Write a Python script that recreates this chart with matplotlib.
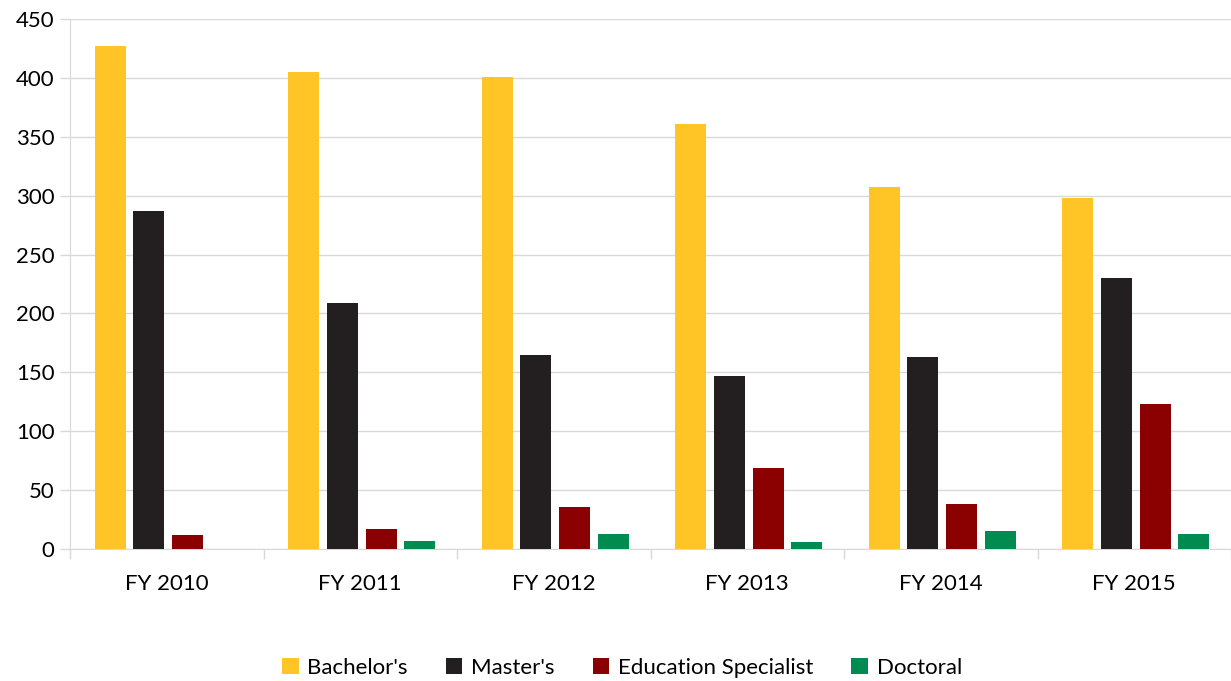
import matplotlib.pyplot as plt
import numpy as np

years = ['FY 2010', 'FY 2011', 'FY 2012', 'FY 2013', 'FY 2014', 'FY 2015']
bachelors = [427, 405, 401, 361, 307, 298]
masters = [287, 209, 165, 147, 163, 230]
ed_specialist = [12, 17, 36, 69, 38, 123]
doctoral = [0, 7, 13, 6, 15, 13]

series = [("Bachelor's", bachelors, '#FFC425'),
          ("Master's", masters, '#231F20'),
          ('Education Specialist', ed_specialist, '#8B0000'),
          ('Doctoral', doctoral, '#008B50')]

plt.rcParams['font.family'] = ['Lato', 'DejaVu Sans']
plt.rcParams['font.size'] = 16

fig = plt.figure(figsize=(12.31, 6.81), dpi=100)
ax = fig.add_axes([70/1231, 132/681, 1 - 70/1231, (549-19)/681])

x = np.arange(len(years))
width = 0.16
offsets = [-0.292, -0.092, 0.108, 0.308]
for (name, vals, col), off in zip(series, offsets):
    ax.bar(x + off, vals, width, color=col, label=name, zorder=3)

ax.set_xlim(-0.5, 5.5)
ax.set_ylim(0, 450)
ax.set_yticks(range(0, 451, 50))
ax.set_xticks(x)
ax.set_xticklabels(years)
ax.set_xticks(np.arange(-0.5, 6, 1), minor=True)
ax.tick_params(axis='x', which='major', length=0, pad=18)
ax.tick_params(axis='x', which='minor', length=7, color='#D9D9D9', width=1)
ax.tick_params(axis='y', length=7, color='#D9D9D9', width=1, pad=4)
ax.grid(axis='y', color='#D9D9D9', linewidth=1, zorder=0)
for s in ['top', 'right']:
    ax.spines[s].set_visible(False)
ax.spines['left'].set_color('#D9D9D9')
ax.spines['bottom'].set_color('#D9D9D9')

fig.legend(loc='center', bbox_to_anchor=(622/1231, 1 - 668/681), ncol=4,
           frameon=False, handlelength=0.75, handleheight=0.75,
           handletextpad=0.4, columnspacing=1.7, fontsize=16)

fig.savefig('out.png', dpi=100)
